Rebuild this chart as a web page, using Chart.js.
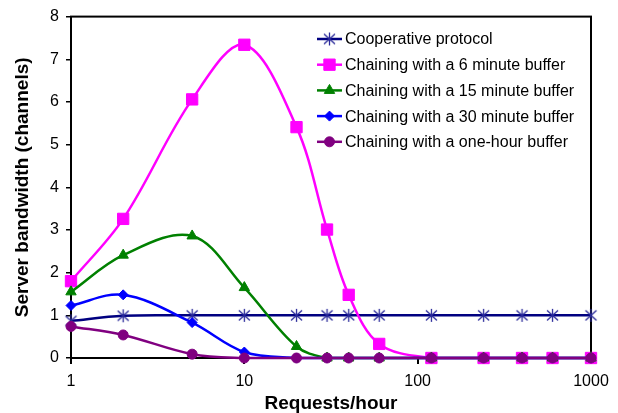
<!DOCTYPE html>
<html>
<head>
<meta charset="utf-8">
<script src="https://cdn.jsdelivr.net/npm/chart.js@4/dist/chart.umd.min.js"></script>
<style>
  html, body { margin: 0; padding: 0; background: #fff; }
  canvas { display: block; }
</style>
</head>
<body>
<canvas id="chart" width="618" height="413"></canvas>
<script>
// Server bandwidth vs request rate — chaining buffers vs cooperative protocol

const requestsPerHour = [1, 2, 5, 10, 20, 30, 40, 60, 120, 240, 400, 600, 1000];
const xTickLabels = [1, 10, 100, 1000];

const cooperative = [0.87, 0.99, 1, 1, 1, 1, 1, 1, 1, 1, 1, 1, 1];
const buffer6min  = [1.80, 3.26, 6.06, 7.34, 5.41, 3.01, 1.48, 0.33, 0, 0, 0, 0, 0];
const buffer15min = [1.55, 2.41, 2.86, 1.65, 0.27, 0, 0, 0, 0, 0, 0, 0, 0];
const buffer30min = [1.23, 1.48, 0.83, 0.14, 0, 0, 0, 0, 0, 0, 0, 0, 0];
const buffer1hour = [0.74, 0.54, 0.09, 0, 0, 0, 0, 0, 0, 0, 0, 0, 0];

const seriesLabels = [
  'Cooperative protocol',
  'Chaining with a 6 minute buffer',
  'Chaining with a 15 minute buffer',
  'Chaining with a 30 minute buffer',
  'Chaining with a one-hour buffer',
];

const FONT = '"Liberation Sans", Arial, sans-serif';

// Excel-style asterisk marker (vertical bar + X)
function asteriskMarker(color) {
  const c = document.createElement('canvas');
  c.width = 15; c.height = 15;
  const g = c.getContext('2d');
  g.strokeStyle = color;
  g.lineWidth = 1.3;
  g.beginPath();
  g.moveTo(7.5, 1); g.lineTo(7.5, 14);
  g.moveTo(2, 2.5); g.lineTo(13, 12.5);
  g.moveTo(13, 2.5); g.lineTo(2, 12.5);
  g.stroke();
  return c;
}

function series(label, values, color, style, radius, order) {
  return {
    label,
    data: values.map((v, i) => ({ x: requestsPerHour[i], y: v })),
    borderColor: color,
    backgroundColor: color,
    borderWidth: 2.5,
    pointStyle: style,
    pointRadius: radius,
    pointBorderWidth: 1,
    pointBackgroundColor: color,
    pointBorderColor: color,
    tension: 0.35,
    clip: false,
    order,
  };
}

const datasets = [
  series(seriesLabels[0], cooperative, '#000080', asteriskMarker('#2a2a9a'), 7, 5),
  series(seriesLabels[1], buffer6min, '#ff00ff', 'rect', 8, 4),
  series(seriesLabels[2], buffer15min, '#008000', 'triangle', 6, 3),
  series(seriesLabels[3], buffer30min, '#0000ff', 'rectRot', 5, 2),
  series(seriesLabels[4], buffer1hour, '#800080', 'circle', 5, 1),
];

// Box around the plot area
const frame = {
  id: 'frame',
  beforeDatasetsDraw(chart) {
    const { ctx, chartArea: a } = chart;
    ctx.save();
    ctx.strokeStyle = '#000';
    ctx.lineWidth = 2;
    ctx.strokeRect(a.left, a.top, a.right - a.left, a.bottom - a.top);
    ctx.restore();
  },
};

// Legend inside the plot, line + marker like the original
const insideLegend = {
  id: 'insideLegend',
  afterDraw(chart) {
    const { ctx } = chart;
    const x0 = 317, x1 = 342, top = 39, step = 25.7;
    ctx.save();
    datasets.forEach((ds, i) => {
      const y = top + i * step;
      ctx.strokeStyle = ds.borderColor;
      ctx.lineWidth = ds.borderWidth;
      ctx.beginPath();
      ctx.moveTo(x0, y);
      ctx.lineTo(x1, y);
      ctx.stroke();
      ctx.fillStyle = ds.pointBackgroundColor;
      ctx.strokeStyle = ds.pointBorderColor;
      ctx.lineWidth = 1;
      Chart.helpers.drawPoint(ctx, {
        pointStyle: ds.pointStyle,
        radius: ds.pointRadius,
        borderWidth: 1,
        rotation: 0,
      }, (x0 + x1) / 2, y);
      ctx.fillStyle = '#000';
      ctx.font = '16px ' + FONT;
      ctx.textBaseline = 'middle';
      ctx.textAlign = 'left';
      ctx.fillText(ds.label, 345, y + 1);
    });
    ctx.restore();
  },
};

new Chart(document.getElementById('chart'), {
  type: 'line',
  data: { datasets },
  options: {
    responsive: false,
    animation: false,
    devicePixelRatio: 1,
    layout: { padding: { left: 0, right: 27, top: 15, bottom: 0 } },
    plugins: {
      legend: { display: false },
      tooltip: { enabled: false },
    },
    scales: {
      x: {
        type: 'logarithmic',
        min: 1,
        max: 1000,
        afterBuildTicks: (scale) => {
          scale.ticks = xTickLabels.map(v => ({ value: v }));
        },
        afterFit: (scale) => { scale.height = 55; },
        ticks: {
          color: '#000',
          font: { family: FONT, size: 16 },
          padding: 8,
          maxRotation: 0,
          autoSkip: false,
          callback: (v) => String(v),
        },
        grid: { drawOnChartArea: false, color: '#000', lineWidth: 2, tickLength: 6 },
        border: { display: true, color: '#000', width: 2 },
        title: {
          display: true,
          text: 'Requests/hour',
          color: '#000',
          font: { family: FONT, size: 19, weight: 'bold', lineHeight: 1 },
          padding: { top: 0, bottom: 0 },
        },
      },
      y: {
        min: 0,
        max: 8,
        afterFit: (scale) => { scale.width = 71; },
        ticks: {
          stepSize: 1,
          color: '#000',
          font: { family: FONT, size: 16 },
          padding: 7,
        },
        grid: { drawOnChartArea: false, color: '#000', lineWidth: 1.5, tickLength: 5 },
        border: { display: true, color: '#000', width: 2 },
        title: {
          display: true,
          text: 'Server bandwidth (channels)',
          color: '#000',
          font: { family: FONT, size: 19, weight: 'bold', lineHeight: 1 },
          padding: { top: 13, bottom: 0 },
        },
      },
    },
  },
  plugins: [frame, insideLegend],
});
</script>
</body>
</html>
